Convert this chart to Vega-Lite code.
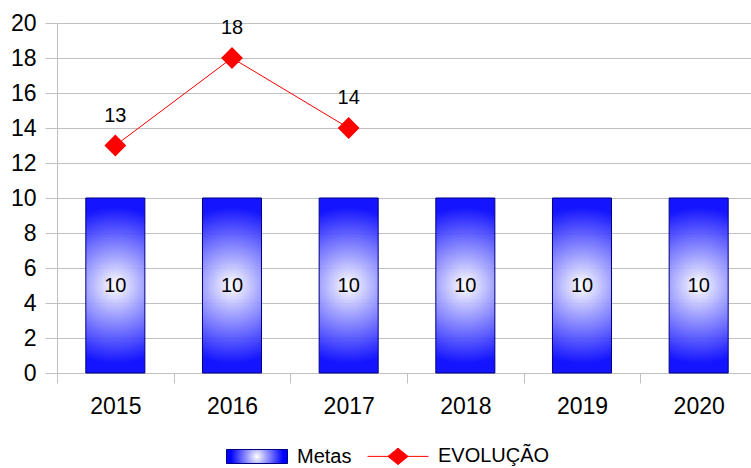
{
  "$schema": "https://vega.github.io/schema/vega-lite/v6.json",
  "autosize": {"type": "none"},
  "padding": {"left": 57, "top": 23, "right": 0, "bottom": 95},
  "width": 694,
  "height": 350,
  "config": {
    "view": {"stroke": null},
    "font": "Liberation Sans",
    "axis": {"labelFont": "Liberation Sans", "labelColor": "#000000", "title": null}
  },
  "data": {
    "values": [
      {"ano": "2015", "metas": 10, "evolucao": 13},
      {"ano": "2016", "metas": 10, "evolucao": 18},
      {"ano": "2017", "metas": 10, "evolucao": 14},
      {"ano": "2018", "metas": 10, "evolucao": null},
      {"ano": "2019", "metas": 10, "evolucao": null},
      {"ano": "2020", "metas": 10, "evolucao": null}
    ]
  },
  "encoding": {
    "x": {
      "field": "ano", "type": "nominal", "sort": null,
      "scale": {"range": [0, 700], "paddingInner": 0, "paddingOuter": 0},
      "axis": {
        "labelAngle": 0, "labelFontSize": 23, "tickBand": "extent",
        "tickSize": 10, "tickColor": "#c0c0c0", "domainColor": "#c0c0c0",
        "labelPadding": 12, "grid": false
      }
    }
  },
  "layer": [
    {
      "mark": {
        "type": "bar", "stroke": "#000080", "strokeWidth": 1, "fillOpacity": 0.92,
        "width": {"band": 0.506},
        "fill": {"gradient": "radial", "x1": 0.5, "y1": 0.5, "x2": 0.5, "y2": 0.5, "r1": 0, "r2": 0.526,
          "stops": [{"offset": 0, "color": "#ffffff"}, {"offset": 0.3, "color": "#a0a0ff"}, {"offset": 0.85, "color": "#0000ff"}, {"offset": 1, "color": "#0000ff"}]}
      },
      "encoding": {
        "y": {
          "field": "metas", "type": "quantitative",
          "scale": {"domain": [0, 20], "nice": false},
          "axis": {
            "values": [0, 2, 4, 6, 8, 10, 12, 14, 16, 18, 20], "labelOverlap": false,
            "labelFontSize": 23, "tickSize": 12, "labelPadding": 9,
            "gridColor": "#c0c0c0", "tickColor": "#c0c0c0", "domainColor": "#c0c0c0"
          }
        }
      }
    },
    {
      "transform": [{"calculate": "datum.metas / 2", "as": "meio"}],
      "mark": {"type": "text", "fontSize": 20, "color": "#000000", "baseline": "middle"},
      "encoding": {
        "y": {"field": "meio", "type": "quantitative",
          "axis": {
            "values": [0, 2, 4, 6, 8, 10, 12, 14, 16, 18, 20], "labelOverlap": false,
            "labelFontSize": 23, "tickSize": 12, "labelPadding": 9,
            "gridColor": "#c0c0c0", "tickColor": "#c0c0c0", "domainColor": "#c0c0c0"
          }},
        "text": {"field": "metas", "type": "quantitative"}
      }
    },
    {
      "mark": {"type": "line", "color": "#ff0000", "strokeWidth": 1,
        "point": {"shape": "diamond", "size": 361, "filled": true, "fill": "#ff0000"}},
      "encoding": {
        "y": {"field": "evolucao", "type": "quantitative",
          "axis": {
            "values": [0, 2, 4, 6, 8, 10, 12, 14, 16, 18, 20], "labelOverlap": false,
            "labelFontSize": 23, "tickSize": 12, "labelPadding": 9,
            "gridColor": "#c0c0c0", "tickColor": "#c0c0c0", "domainColor": "#c0c0c0"
          }},
        "stroke": {
          "datum": "EVOLUÇÃO",
          "scale": {"domain": ["Metas", "EVOLUÇÃO"], "range": ["#000080", "#ff0000"]},
          "legend": {
            "title": null, "orient": "none", "direction": "horizontal",
            "legendX": 169, "legendY": 402, "padding": 0,
            "labelFontSize": 20, "labelColor": "#000000", "labelFont": "Liberation Sans",
            "symbolSize": 3721, "labelOffset": 9, "columnPadding": 13,
            "encode": {
              "symbols": {
                "update": {
                  "shape": [
                    {"test": "datum.value === 'Metas'", "value": "M-1,-0.23H1V0.23H-1Z"},
                    {"value": "M-1,0H1M0,-0.27L0.33,0L0,0.27L-0.33,0Z"}
                  ],
                  "fill": {"signal": "datum.value === 'Metas' ? {gradient: 'radial', x1: 0.5, y1: 0.5, x2: 0.5, y2: 0.5, r1: 0, r2: 0.51, stops: [{offset: 0, color: '#ffffff'}, {offset: 0.3, color: '#a0a0ff'}, {offset: 0.85, color: '#0000ff'}, {offset: 1, color: '#0000ff'}]} : '#ff0000'"},
                  "strokeWidth": {"value": 1},
                  "size": {"value": 3721},
                  "opacity": {"value": 1},
                  "fillOpacity": {"value": 1},
                  "strokeOpacity": {"value": 1}
                }
              }
            }
          }
        }
      }
    },
    {
      "mark": {"type": "text", "fontSize": 20, "color": "#000000", "baseline": "middle", "dy": -30},
      "encoding": {
        "y": {"field": "evolucao", "type": "quantitative",
          "axis": {
            "values": [0, 2, 4, 6, 8, 10, 12, 14, 16, 18, 20], "labelOverlap": false,
            "labelFontSize": 23, "tickSize": 12, "labelPadding": 9,
            "gridColor": "#c0c0c0", "tickColor": "#c0c0c0", "domainColor": "#c0c0c0"
          }},
        "text": {"field": "evolucao", "type": "quantitative"}
      }
    }
  ]
}
